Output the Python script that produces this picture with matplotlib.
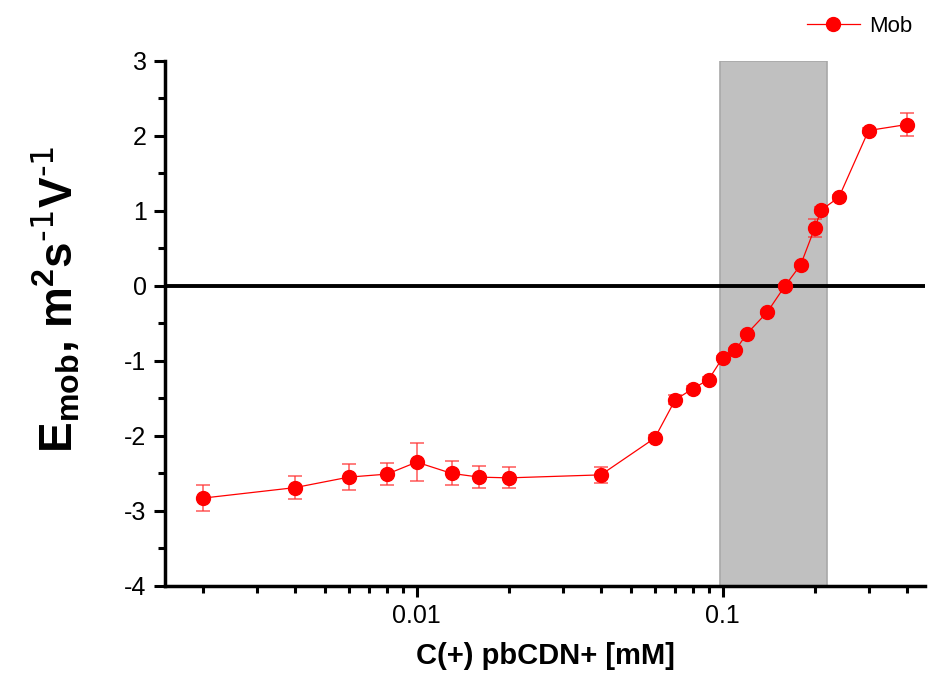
import matplotlib.pyplot as plt
from matplotlib.ticker import LogLocator, FixedLocator, MultipleLocator, NullFormatter

plt.rcParams['font.family'] = ['Liberation Sans', 'DejaVu Sans']
plt.rcParams['mathtext.default'] = 'regular'
plt.rcParams['axes.unicode_minus'] = False

# concentration [mM] and mobility values
conc = [0.002, 0.004, 0.006, 0.008, 0.01, 0.013, 0.016, 0.02, 0.04,
        0.06, 0.07, 0.08, 0.09, 0.1, 0.11, 0.12, 0.14, 0.16, 0.18,
        0.2, 0.21, 0.24, 0.3, 0.4]
mob = [-2.83, -2.69, -2.55, -2.51, -2.35, -2.50, -2.55, -2.56, -2.52,
       -2.03, -1.52, -1.37, -1.25, -0.96, -0.86, -0.64, -0.35, 0.0, 0.28,
       0.77, 1.01, 1.18, 2.07, 2.15]
err = [0.17, 0.15, 0.17, 0.15, 0.25, 0.16, 0.15, 0.14, 0.11,
       0.04, 0.06, 0.03, 0.03, 0.03, 0.03, 0.03, 0.03, 0.03, 0.03,
       0.12, 0.04, 0.03, 0.03, 0.15]

# shaded band
band = (0.098, 0.22)

fig = plt.figure(figsize=(9.3, 6.75), dpi=100)
ax = fig.add_axes([0.177, 0.132, 0.818, 0.778])

ax.axvspan(band[0], band[1], ymin=0, ymax=1, facecolor='#c0c0c0',
           edgecolor='#a8a8a8', lw=1.2, zorder=0)
ax.axhline(0, color='black', lw=2.8, zorder=1)

ax.errorbar(conc, mob, yerr=err, fmt='none', ecolor=(1, 0.2, 0.2, 0.75),
            elinewidth=1.2, capsize=5, capthick=1.2, zorder=3)
ax.plot(conc, mob, color='red', marker='o', markersize=10, lw=0.9,
        label='Mob', zorder=4)

ax.set_xscale('log')
ax.set_xlim(0.0015, 0.46)
ax.set_ylim(-4, 3)

ax.xaxis.set_major_locator(FixedLocator([0.01, 0.1]))
ax.xaxis.set_major_formatter(plt.FuncFormatter(lambda v, p: f'{v:g}'))
ax.xaxis.set_minor_locator(LogLocator(base=10, subs=range(2, 10)))
ax.xaxis.set_minor_formatter(NullFormatter())
ax.yaxis.set_major_locator(MultipleLocator(1))
ax.yaxis.set_minor_locator(MultipleLocator(0.5))

for s in ['top', 'right']:
    ax.spines[s].set_visible(False)
for s in ['left', 'bottom']:
    ax.spines[s].set_linewidth(2.5)

ax.tick_params(which='major', direction='out', length=8, width=2.2,
               labelsize=18, pad=5)
ax.tick_params(which='minor', direction='out', length=5, width=2.2)

ax.set_xlabel('C(+) pbCDN+ [mM]', fontsize=21, fontweight='bold', labelpad=10)
ax.set_ylabel(r'E$_{mob}$, m$^{2}$s$^{\text{-1}}$V$^{\text{-1}}$', fontsize=33,
              fontweight='bold')
ax.yaxis.set_label_coords(-0.108, 0.545)

ax.legend(loc='lower right', bbox_to_anchor=(1.0, 1.02), frameon=False,
          fontsize=16, handlelength=2.4, handletextpad=0.4, borderaxespad=0.2)

fig.savefig('out.png', dpi=100)
